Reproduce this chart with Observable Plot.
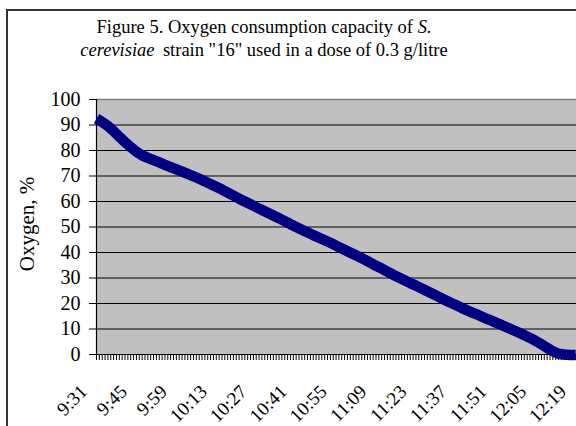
<!DOCTYPE html>
<html>
<head>
<meta charset="utf-8">
<script src="https://cdn.jsdelivr.net/npm/d3@7"></script>
<script src="https://cdn.jsdelivr.net/npm/@observablehq/plot@0.6"></script>
<style>
  html, body { margin: 0; padding: 0; background: #fff; }
  #wrap { position: relative; width: 576px; height: 426px; overflow: hidden; font-family: "Liberation Serif", "Times New Roman", serif; }
  #frame { position: absolute; left: 6px; top: 9px; width: 640px; height: 500px; border: 2px solid #333; box-sizing: border-box; }
  #title { position: absolute; left: 0; top: 16px; width: 528px; text-align: center; font-size: 18.5px; line-height: 23px; color: #000; }
  #ylab { position: absolute; left: 27px; top: 224px; transform: translate(-50%, -50%) rotate(-90deg); font-size: 21px; white-space: nowrap; color: #000; }
  #chart { position: absolute; left: 0; top: 60px; }
</style>
</head>
<body>
<div id="wrap">
  <div id="frame"></div>
  <div id="title">Figure 5. Oxygen consumption capacity of <i>S.</i><br><i>cerevisiae</i>&thinsp; strain "16" used in a dose of 0.3 g/litre</div>
  <div id="chart"></div>
  <div id="ylab">Oxygen, %</div>
</div>
<script>
// Readings (time of day, oxygen %)
const times = ["9:31","9:33","9:35","9:37","9:39","9:41","9:43","9:45","9:47","9:49","9:51","9:53","9:55","9:57","9:59",
  "10:01","10:03","10:05","10:07","10:09","10:11","10:13","10:15","10:17","10:19","10:21","10:23","10:25","10:27","10:29",
  "10:31","10:33","10:35","10:37","10:39","10:41","10:43","10:45","10:47","10:49","10:51","10:53","10:55","10:57","10:59",
  "11:01","11:03","11:05","11:07","11:09","11:11","11:13","11:15","11:17","11:19","11:21","11:23","11:25","11:27","11:29",
  "11:31","11:33","11:35","11:37","11:39","11:41","11:43","11:45","11:47","11:49","11:51","11:53","11:55","11:57","11:59",
  "12:01","12:03","12:05","12:07","12:09","12:11","12:13","12:15","12:17","12:19"];
const oxygen = [92.5,91.2,89.6,87.6,85.4,83.3,81.3,79.5,78.1,77.1,76.2,75.3,74.4,73.5,72.6,
  71.7,70.8,69.9,68.9,67.9,66.8,65.8,64.7,63.5,62.3,61.1,60.0,58.9,57.8,56.7,
  55.6,54.5,53.4,52.3,51.1,50.0,48.9,47.9,46.8,45.8,44.8,43.8,42.7,41.6,40.5,
  39.4,38.3,37.2,36.0,34.8,33.7,32.5,31.3,30.2,29.1,28.0,27.0,25.9,24.8,23.7,
  22.6,21.5,20.4,19.4,18.3,17.3,16.3,15.4,14.4,13.5,12.5,11.6,10.6,9.6,8.6,
  7.6,6.5,5.3,4.0,2.6,1.3,0.3,0.0,-0.2,-0.2];
const tickLabels = ["9:31","9:45","9:59","10:13","10:27","10:41","10:55","11:09","11:23","11:37","11:51","12:05","12:19"];
const yTicks = [0,10,20,30,40,50,60,70,80,90,100];

const start = 9 * 60 + 31;
const toMin = s => { const [h, m] = s.split(":").map(Number); return h * 60 + m - start; };
const data = times.map((t, i) => ({t: toMin(t), v: oxygen[i]}));
const minuteTicks = d3.range(0, toMin("12:19") + 1, 1);

const chart = Plot.plot({
  width: 576,
  height: 366,
  marginLeft: 96,
  marginRight: 0,
  marginTop: 39,
  marginBottom: 72,
  x: {domain: [0, 168.3], axis: null},
  y: {domain: [0, 100], axis: null},
  style: {background: "transparent", color: "#000", overflow: "visible"},
  marks: [
    Plot.rect([0], {x1: 0, x2: 168.3, y1: 0, y2: 100, fill: "#c0c0c0"}),
    Plot.ruleY(yTicks.filter(v => v > 0 && v < 100), {stroke: "#000", strokeWidth: 1}),
    Plot.ruleY([100], {stroke: "#808080", strokeWidth: 1.5}),
    Plot.axisY({ticks: yTicks, tickSize: 7, tickPadding: 9, fontSize: 20, label: null, stroke: "#000"}),
    Plot.axisX({ticks: minuteTicks, tickFormat: () => "", tickSize: 6, label: null, stroke: "#000"}),
    Plot.ruleY([0], {stroke: "#000", strokeWidth: 1.2}),
    Plot.ruleX([0], {stroke: "#000", strokeWidth: 1.2}),
    Plot.line(data, {x: "t", y: "v", stroke: "#000080", strokeWidth: 10.5, strokeLinejoin: "round", strokeLinecap: "butt"}),
    Plot.text(tickLabels, {x: d => toMin(d), y: 0, text: d => d, rotate: -45, textAnchor: "end", lineAnchor: "middle", dx: -12.5, dy: 34, fontSize: 19, fill: "#000"})
  ]
});
// serif face on every SVG text node
d3.select(chart).attr("font-family", "Liberation Serif").style("font-family", "Liberation Serif")
  .selectAll("g, text")
  .attr("font-family", "Liberation Serif")
  .style("font-family", "Liberation Serif")
  .style("font-variant", "normal");
document.getElementById("chart").appendChild(chart);
</script>
</body>
</html>
